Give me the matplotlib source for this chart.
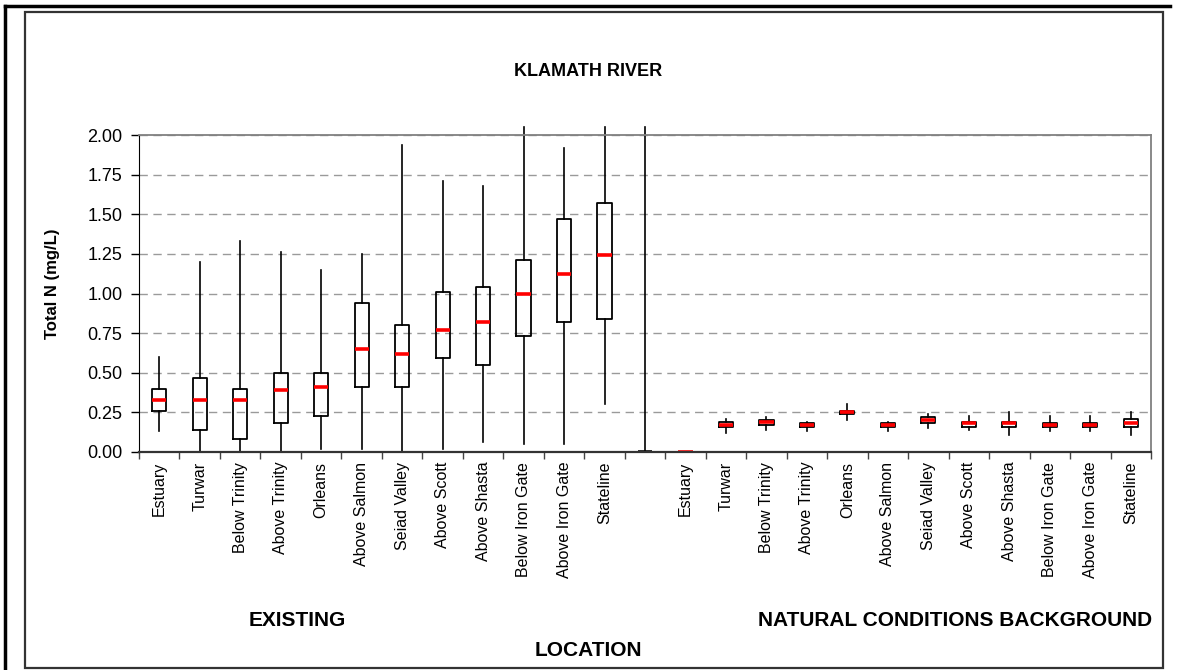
import matplotlib
matplotlib.use("Agg")
import matplotlib.pyplot as plt
from matplotlib.lines import Line2D
from matplotlib.patches import Rectangle

# station names, existing then natural background (gap slot in between)
stations = ["Estuary", "Turwar", "Below Trinity", "Above Trinity", "Orleans",
            "Above Salmon", "Seiad Valley", "Above Scott", "Above Shasta",
            "Below Iron Gate", "Above Iron Gate", "Stateline"]
labels = stations + [""] + stations

# existing conditions, Total N (mg/L)
ex_whislo = [0.13, 0.00, 0.00, 0.00, 0.02, 0.02, 0.00, 0.02, 0.06, 0.05, 0.05, 0.30]
ex_q1     = [0.26, 0.14, 0.08, 0.18, 0.23, 0.41, 0.41, 0.59, 0.55, 0.73, 0.82, 0.84]
ex_med    = [0.33, 0.33, 0.33, 0.39, 0.41, 0.65, 0.62, 0.77, 0.82, 1.00, 1.12, 1.24]
ex_q3     = [0.40, 0.47, 0.40, 0.50, 0.50, 0.94, 0.80, 1.01, 1.04, 1.21, 1.47, 1.57]
ex_whishi = [0.60, 1.20, 1.33, 1.26, 1.15, 1.25, 1.94, 1.71, 1.68, 2.05, 1.92, 2.05]

# empty slot between the two groups
gap_stats = [0.00, 0.00, 0.00, 0.00, 2.05]  # whislo, q1, med, q3, whishi

# natural conditions background
nat_whislo = [0.00, 0.12, 0.14, 0.13, 0.20, 0.13, 0.15, 0.14, 0.11, 0.13, 0.13, 0.11]
nat_q1     = [0.00, 0.16, 0.17, 0.16, 0.24, 0.16, 0.18, 0.16, 0.16, 0.16, 0.16, 0.16]
nat_med    = [0.00, 0.17, 0.19, 0.17, 0.25, 0.17, 0.20, 0.18, 0.18, 0.17, 0.17, 0.18]
nat_q3     = [0.00, 0.19, 0.20, 0.18, 0.26, 0.18, 0.22, 0.19, 0.19, 0.18, 0.18, 0.21]
nat_whishi = [0.00, 0.21, 0.22, 0.19, 0.30, 0.19, 0.24, 0.23, 0.25, 0.23, 0.23, 0.25]

yticks = [0.00, 0.25, 0.50, 0.75, 1.00, 1.25, 1.50, 1.75, 2.00]


def make_stats(lo, q1, med, q3, hi):
    return [dict(whislo=a, q1=b, med=c, q3=d, whishi=e, fliers=[])
            for a, b, c, d, e in zip(lo, q1, med, q3, hi)]


stats = (make_stats(ex_whislo, ex_q1, ex_med, ex_q3, ex_whishi)
         + make_stats(*[[v] for v in gap_stats])
         + make_stats(nat_whislo, nat_q1, nat_med, nat_q3, nat_whishi))

W, H = 1177, 670
fig = plt.figure(figsize=(W / 100, H / 100), dpi=100)
reg = ["Liberation Sans", "DejaVu Sans"]
bold = dict(family=reg, weight="bold")

# frames around the chart
fig.add_artist(Line2D([5 / W, 5 / W], [0, 1 - 6 / H], color="black", lw=2.5))
fig.add_artist(Line2D([5 / W, 1170 / W], [1 - 6 / H, 1 - 6 / H], color="black", lw=2.5))
fig.add_artist(Rectangle((25 / W, 1 - 668 / H), (1163 - 25) / W, (668 - 12) / H,
                         transform=fig.transFigure, fill=False,
                         edgecolor="#333333", lw=1.6))

ax = fig.add_axes([139 / W, 1 - 452 / H, (1151 - 139) / W, (452 - 135) / H])
pos = list(range(len(stats)))
art = ax.bxp(stats, positions=pos, widths=0.35, showcaps=False, showfliers=False,
             boxprops=dict(color="black", lw=1.3),
             whiskerprops=dict(color="black", lw=1.2),
             medianprops=dict(color="red", lw=2.6, solid_capstyle="butt"))
for w in art["whiskers"]:
    w.set_clip_on(False)
art["medians"][12].set_color("black")

ax.set_xlim(-0.5, len(stats) - 0.5)
ax.set_ylim(0, 2.0)
ax.set_yticks(yticks)
ax.set_yticklabels([f"{v:.2f}" for v in yticks], family=reg, fontsize=13)
ax.tick_params(axis="y", direction="out", length=6, width=1, color="black", pad=6)
ax.set_xticks(pos)
ax.set_xticklabels(labels, rotation=90, family=reg, fontsize=11.5)
ax.tick_params(axis="x", which="major", length=0, pad=7)
ax.set_xticks([p - 0.5 for p in pos] + [len(stats) - 0.5], minor=True)
ax.tick_params(axis="x", which="minor", direction="out", length=5, width=1, color="#444444")

ax.yaxis.grid(True, linestyle=(0, (6, 4)), color="#9a9a9a", lw=1)
ax.set_axisbelow(True)
for s in ["top", "right"]:
    ax.spines[s].set_color("#808080")
    ax.spines[s].set_linewidth(1.3)
ax.spines["left"].set_color("black")
ax.spines["bottom"].set_color("#333333")
ax.spines["bottom"].set_linewidth(1.6)

ax.set_ylabel("Total N (mg/L)", fontsize=12, **bold)
ax.yaxis.set_label_coords((60 - 139) / (1151 - 139), 0.53)

fig.text(588 / W, 1 - 72 / H, "KLAMATH RIVER", ha="center", va="center", fontsize=13, **bold)
fig.text(297 / W, 1 - 620 / H, "EXISTING", ha="center", va="center", fontsize=15, **bold)
fig.text(955 / W, 1 - 620 / H, "NATURAL CONDITIONS BACKGROUND", ha="center", va="center",
         fontsize=15, **bold)
fig.text(588 / W, 1 - 650 / H, "LOCATION", ha="center", va="center", fontsize=15, **bold)

fig.savefig("out.png", dpi=100)
